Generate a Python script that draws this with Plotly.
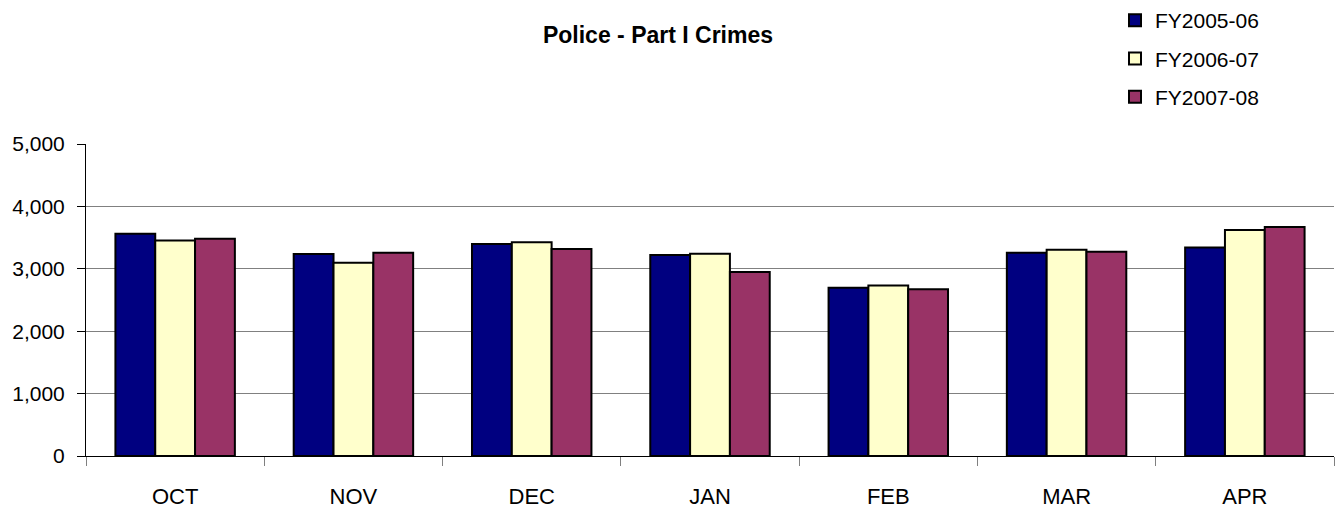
import plotly.graph_objects as go

months = ["OCT", "NOV", "DEC", "JAN", "FEB", "MAR", "APR"]
fy2005_06 = [3560, 3236, 3396, 3220, 2695, 3257, 3343]
fy2006_07 = [3455, 3096, 3424, 3240, 2733, 3305, 3621]
fy2007_08 = [3480, 3257, 3316, 2947, 2674, 3273, 3669]

series = [
    ("FY2005-06", fy2005_06, "#000080"),
    ("FY2006-07", fy2006_07, "#FFFFCC"),
    ("FY2007-08", fy2007_08, "#993366"),
]

font_family = "Liberation Sans, Arial, sans-serif"

fig = go.Figure()
for i, (name, vals, color) in enumerate(series):
    fig.add_trace(go.Bar(
        x=months, y=vals, name=name,
        marker=dict(color=color, line=dict(color="#000000", width=2)),
        legendgroup=f"g{i}",
    ))

fig.update_layout(
    width=1335, height=512,
    margin=dict(l=86, r=1, t=144, b=56, autoexpand=False),
    paper_bgcolor="white", plot_bgcolor="white",
    font=dict(family=font_family, size=21, color="#000000"),
    barmode="group", bargap=0.33, bargroupgap=0,
    title=dict(text="<b>Police - Part I Crimes</b>", xref="container", yref="container",
               x=658/1335, xanchor="center", y=1-35/512, yanchor="middle",
               font=dict(family=font_family, size=23, color="#000000")),
    legend=dict(xref="container", yref="container", x=1115/1335, xanchor="left",
                y=1.0, yanchor="top", traceorder="grouped", tracegroupgap=8,
                itemwidth=30, font=dict(size=21), bgcolor="rgba(0,0,0,0)"),
    showlegend=True,
)
fig.update_xaxes(
    showline=True, linecolor="#000000", linewidth=1,
    ticks="outside", tickson="boundaries", ticklen=9, tickcolor="#808080",
    showgrid=False, tickfont=dict(size=22), ticklabelstandoff=21,
)
fig.update_yaxes(
    range=[0, 5000], dtick=1000, tickformat=",",
    showline=True, linecolor="#000000", linewidth=1,
    ticks="outside", ticklen=8, tickcolor="#000000",
    showgrid=True, gridcolor="#808080", gridwidth=1,
    zeroline=False, tickfont=dict(size=21), ticklabelstandoff=8,
)

fig.write_html("out.html")
